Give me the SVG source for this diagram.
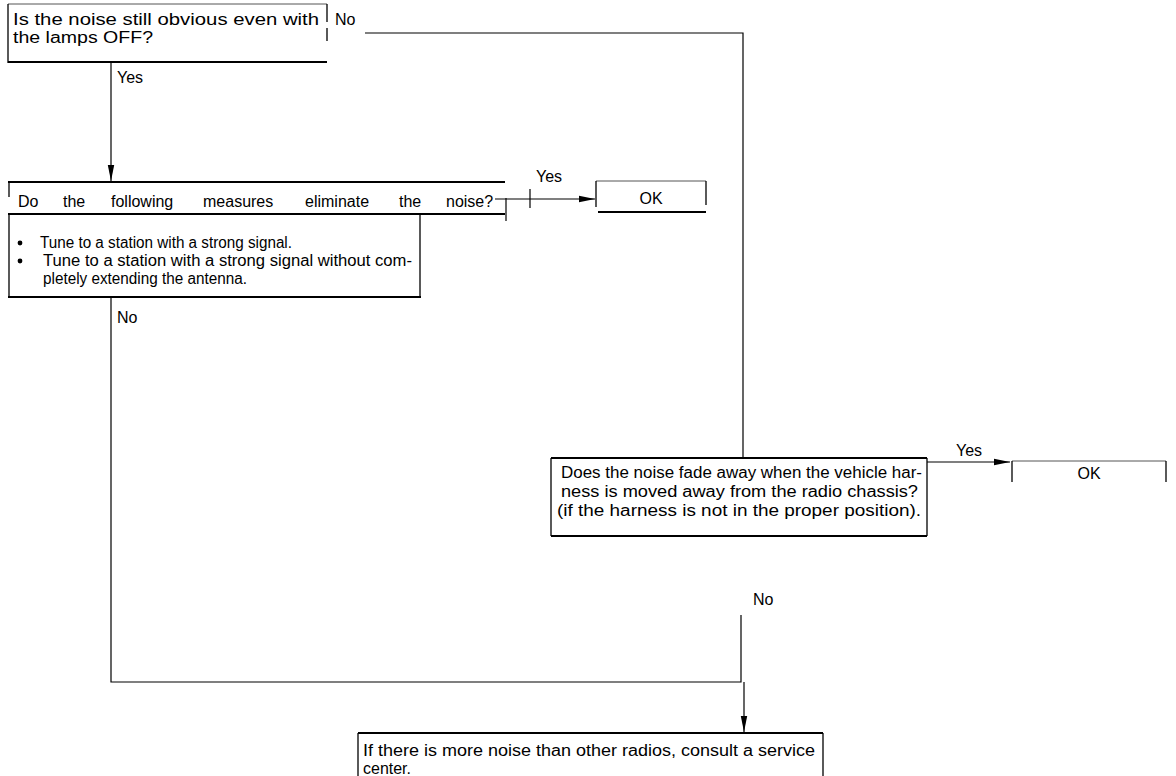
<svg xmlns="http://www.w3.org/2000/svg" width="1176" height="776" viewBox="0 0 1176 776">
<defs>
<style>
text{font-family:"Liberation Sans",Arial,sans-serif;font-size:16px;fill:#000}
.b{stroke:#000;stroke-width:2;fill:none}
.t{stroke:#000;stroke-width:1.3;fill:none}
.c{stroke:#000;stroke-width:1.2;fill:none}
.lt{stroke:#555;stroke-width:1;fill:none}
</style>
<marker id="ah" viewBox="0 0 16 8" refX="16" refY="4" markerWidth="16" markerHeight="8" markerUnits="userSpaceOnUse" orient="auto">
<path d="M0,0.8 L16,4 L0,7.2 z" fill="#000"/>
</marker>
</defs>
<rect width="1176" height="776" fill="#fff"/>
<g id="connectors">
<path class="c" d="M365,33 H743 V458"/>
<path class="c" d="M111,63 V181" marker-end="url(#ah)"/>
<path class="c" d="M495,199 H595" marker-end="url(#ah)"/>
<path class="c" d="M530,189 V208"/>
<path class="c" d="M506,198 V221"/>
<path class="c" d="M111,297 V682 H741 V615"/>
<path class="c" d="M744,682 V732" marker-end="url(#ah)"/>
<path class="c" d="M927,462 H1010" marker-end="url(#ah)"/>
<text x="335" y="25">No</text>
<text x="117" y="83">Yes</text>
<text x="536" y="182" font-size="17">Yes</text>
<text x="117" y="323">No</text>
<text x="956" y="456" font-size="17">Yes</text>
<text x="753" y="605">No</text>
</g>
<g id="q1">
<path class="lt" d="M8,4 H327"/>
<path class="t" d="M8,4 V63"/>
<path class="t" d="M327,4 V22 M327,28 V41"/>
<path class="b" d="M8,62 H327"/>
<text x="13" y="25" font-size="17" textLength="306" lengthAdjust="spacingAndGlyphs">Is the noise still obvious even with</text>
<text x="13" y="43" font-size="17" textLength="140" lengthAdjust="spacingAndGlyphs">the lamps OFF?</text>
</g>
<g id="q2">
<path class="b" d="M8,182 H505"/>
<path class="t" d="M9,182 V197"/>
<path class="b" d="M8,214 H505"/>
<text y="207" font-size="18"><tspan x="18">Do</tspan><tspan x="63">the</tspan><tspan x="111">following</tspan><tspan x="203">measures</tspan><tspan x="305">eliminate</tspan><tspan x="399">the</tspan><tspan x="446">noise?</tspan></text>
</g>
<g id="measures">
<path class="t" d="M9,214 V297"/>
<path class="t" d="M420,214 V297"/>
<path class="b" d="M8,297 H421"/>
<circle cx="20" cy="243" r="2.4" fill="#000"/>
<circle cx="20" cy="261" r="2.4" fill="#000"/>
<text x="40" y="248" textLength="252" lengthAdjust="spacingAndGlyphs">Tune to a station with a strong signal.</text>
<text x="43" y="266" textLength="369" lengthAdjust="spacingAndGlyphs">Tune to a station with a strong signal without com-</text>
<text x="43" y="284" textLength="204" lengthAdjust="spacingAndGlyphs">pletely extending the antenna.</text>
</g>
<g id="ok1">
<path class="lt" d="M596,181 H706"/>
<path class="t" d="M596,181 V207"/>
<path class="t" d="M706,181 V205"/>
<path class="b" d="M598,212 H706"/>
<text x="651" y="204" text-anchor="middle" font-size="17">OK</text>
</g>
<g id="q3">
<path class="b" d="M551,458 H927"/>
<path class="t" d="M551,458 V536"/>
<path class="t" d="M927,458 V536"/>
<path class="b" d="M551,536 H927"/>
<text x="561" y="478" textLength="361" lengthAdjust="spacingAndGlyphs">Does the noise fade away when the vehicle har-</text>
<text x="561" y="497" textLength="357" lengthAdjust="spacingAndGlyphs">ness is moved away from the radio chassis?</text>
<text x="557" y="516" textLength="364" lengthAdjust="spacingAndGlyphs">(if the harness is not in the proper position).</text>
</g>
<g id="ok2">
<path class="lt" d="M1012,461 H1166"/>
<path class="t" d="M1012,461 V482"/>
<path class="t" d="M1166,461 V482"/>
<text x="1089" y="479" text-anchor="middle" font-size="17">OK</text>
</g>
<g id="result">
<path class="b" d="M358,733 H823"/>
<path class="t" d="M358,733 V776"/>
<path class="t" d="M823,733 V776"/>
<text x="363" y="756" textLength="452" lengthAdjust="spacingAndGlyphs">If there is more noise than other radios, consult a service</text>
<text x="363" y="774" textLength="48" lengthAdjust="spacingAndGlyphs">center.</text>
</g>
</svg>
